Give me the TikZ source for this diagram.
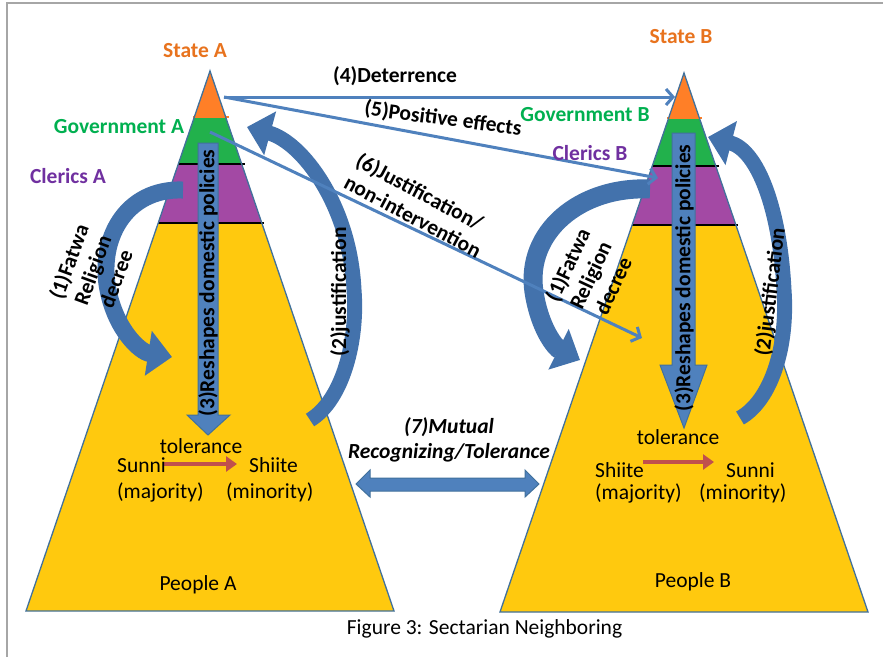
\documentclass[tikz,border=0pt]{standalone}
\usepackage{fontspec}
\setmainfont{Carlito}
\usetikzlibrary{arrows.meta}
\definecolor{pyrY}{HTML}{FFC90E}
\definecolor{pyrO}{HTML}{FF7F27}
\definecolor{pyrG}{HTML}{22B14C}
\definecolor{pyrP}{HTML}{A349A4}
\definecolor{edgeB}{HTML}{41719C}
\definecolor{arrB}{HTML}{4F81BD}
\definecolor{arrD}{HTML}{4372AC}
\definecolor{redA}{HTML}{C0504D}
\definecolor{txtO}{HTML}{E8731E}
\definecolor{txtG}{HTML}{00B050}
\definecolor{txtP}{HTML}{7030A0}
\begin{document}
\begin{tikzpicture}[x=1pt,y=-1pt,
  every node/.style={inner sep=0pt},
  tr/.style={font=\fontsize{21.5}{23}\selectfont},
  tb/.style={font=\fontsize{21.5}{23}\selectfont\bfseries},
  tbm/.style={font=\fontsize{21.5}{25}\selectfont\bfseries},
  tbi/.style={font=\fontsize{21.5}{23}\selectfont\bfseries\itshape},
  pyr/.style={draw=edgeB, line width=1.3},
  sep/.style={draw=black, line width=1.2},
  thinarrow/.style={draw=arrB, line width=3, -{Straight Barb[length=7pt,width=16pt]}},
  bigarrow/.style={draw=arrD, line width=17, -{Triangle[length=24pt,width=44pt]}},
  blockarrow/.style={fill=arrB, draw=edgeB, line width=1},
  redarrow/.style={draw=redA, line width=4, -{Triangle[length=11pt,width=15pt]}}]
\useasboundingbox (0,0) rectangle (883,657);
\fill[white] (0,0) rectangle (883,657);
\draw[gray!70, line width=1.5] (7,657) -- (7,3) -- (883,3);

% ---------- pyramid A ----------
\fill[pyrY] (210,71) -- (394,611) -- (26,611) -- cycle;
\fill[pyrO] (210,71) -- (225.7,117) -- (194.3,117) -- cycle;
\fill[pyrG] (194.3,117) -- (225.7,117) -- (241.7,164) -- (178.3,164) -- cycle;
\fill[pyrP] (178.3,164) -- (241.7,164) -- (261.8,223) -- (158.2,223) -- cycle;
\draw[pyrO, line width=1.2] (193,117) -- (229,117);
\draw[sep] (178,164) -- (245,164);
\draw[sep] (158,223) -- (264,223);
\draw[pyr] (210,71) -- (394,611) -- (26,611) -- cycle;

% ---------- pyramid B ----------
\fill[pyrY] (684,73) -- (868,612) -- (500,612) -- cycle;
\fill[pyrO] (684,73) -- (699.4,118) -- (668.6,118) -- cycle;
\fill[pyrG] (668.6,118) -- (699.4,118) -- (715.7,166) -- (652.3,166) -- cycle;
\fill[pyrP] (652.3,166) -- (715.7,166) -- (735.9,225) -- (632.1,225) -- cycle;
\draw[pyrO, line width=1.2] (667,118) -- (702,118);
\draw[sep] (652,166) -- (719,166);
\draw[sep] (632,225) -- (738,225);
\draw[pyr] (684,73) -- (868,612) -- (500,612) -- cycle;

% ---------- (3) block arrows ----------
\draw[blockarrow] (198,143) -- (218,143) -- (218,415) -- (230,415) -- (208,435)
  -- (187,415) -- (198,415) -- cycle;
\draw[blockarrow] (672,133) -- (695,133) -- (695,365) -- (707,365) -- (684,428)
  -- (660,365) -- (672,365) -- cycle;

% ---------- curved arrows ----------
\coordinate (a1s) at (183,190);
\coordinate (a1e) at (172,357);
\draw[bigarrow] (a1s) .. controls (125,188) and (98,240) .. (108,290)
  .. controls (116,330) and (140,352) .. (a1e);
\coordinate (a2s) at (310,420);
\coordinate (a2e) at (247,127);
\draw[bigarrow, line width=15] (a2s) .. controls (343,400) and (358,340) .. (354,290)
  .. controls (350,205) and (302,142) .. (a2e);
\coordinate (b1s) at (650,189);
\coordinate (b1e) at (580,360);
\draw[bigarrow, line width=19] (b1s) .. controls (580,186) and (525,232) .. (534,292)
  .. controls (540,330) and (556,348) .. (b1e);
\coordinate (b2s) at (740,418);
\coordinate (b2e) at (708,137);
\draw[bigarrow, line width=15] (b2s) .. controls (772,400) and (788,345) .. (784,290)
  .. controls (780,210) and (758,150) .. (b2e);

% ---------- straight arrows ----------
\coordinate (sA) at (224,97);
\coordinate (gA) at (210,132);
\coordinate (detB) at (675,97);
\coordinate (posB) at (658,178);
\coordinate (jusB) at (642,338);
\draw[thinarrow] (sA) -- (detB);
\draw[thinarrow] (sA) -- (posB);
\draw[thinarrow] (gA) -- (jusB);

% (7) double arrow
\draw[blockarrow] (356,484) -- (370,470) -- (370,478) -- (525,478) -- (525,470)
  -- (539,484) -- (525,497) -- (525,491) -- (370,491) -- (370,497) -- cycle;

% red tolerance arrows
\coordinate (rA1) at (164,464); \coordinate (rA2) at (237,464);
\coordinate (rB1) at (643,462); \coordinate (rB2) at (714,462);
\draw[redarrow] (rA1) -- (rA2);
\draw[redarrow] (rB1) -- (rB2);

% ---------- labels ----------
\node[tb, text=txtO, anchor=base] (stA) at (195,57) {State A};
\node[tb, text=txtO, anchor=base] (stB) at (681,43) {State B};
\node[tb, text=txtG, anchor=base] (gvA) at (119,133) {Government A};
\node[tb, text=txtG, anchor=base] (gvB) at (585,121) {Government B};
\node[tb, text=txtP, anchor=base] (clA) at (68,183) {Clerics A};
\node[tb, text=txtP, anchor=base] (clB) at (590,160) {Clerics B};

\node[tb, anchor=base] (l4) at (395,82) {(4)Deterrence};
\node[tb, rotate=-7.5] (l5) at (443,119) {(5)Positive effects};
\node[tbm, rotate=-28, align=left] (l6) at (419,205) {(6)Justification/\\non-intervention};

\node[tbm, rotate=70, align=center] (l1A) at (92,270) {(1)Fatwa\\Religion\\decree};
\node[tbm, rotate=65, align=center] (l1B) at (590,275) {(1)Fatwa\\Religion\\decree};
\node[tb, rotate=90] (l2A) at (340,292) {(2)justification};
\node[tb, rotate=83] (l2B) at (771,292) {(2)justification};
\node[tb, rotate=90] (l3A) at (208,283) {(3)Reshapes domestic policies};
\node[tb, rotate=90] (l3B) at (684,278) {(3)Reshapes domestic policies};

\node[tr, anchor=base] (tolA) at (201,453) {tolerance};
\node[tr, anchor=base west] (suA) at (117,472) {Sunni};
\node[tr, anchor=base west] (maA) at (117,498) {(majority)};
\node[tr, anchor=base west] (shA) at (249,472) {Shiite};
\node[tr, anchor=base west] (miA) at (226,498) {(minority)};

\node[tr, anchor=base] (tolB) at (678,444) {tolerance};
\node[tr, anchor=base west] (shB) at (595,477) {Shiite};
\node[tr, anchor=base west] (maB) at (595,499) {(majority)};
\node[tr, anchor=base west] (suB) at (726,477) {Sunni};
\node[tr, anchor=base west] (miB) at (699,499) {(minority)};

\node[tbi, anchor=base] (m7) at (449,433) {(7)Mutual};
\node[tbi, anchor=base] (r7) at (449,458) {Recognizing/Tolerance};

\node[tr, anchor=base] (pA) at (198,590) {People A};
\node[tr, anchor=base] (pB) at (693,587) {People B};
\node[tr, anchor=base] (cap) at (484.5,634) {Figure 3: Sectarian Neighboring};
\end{tikzpicture}
\end{document}
